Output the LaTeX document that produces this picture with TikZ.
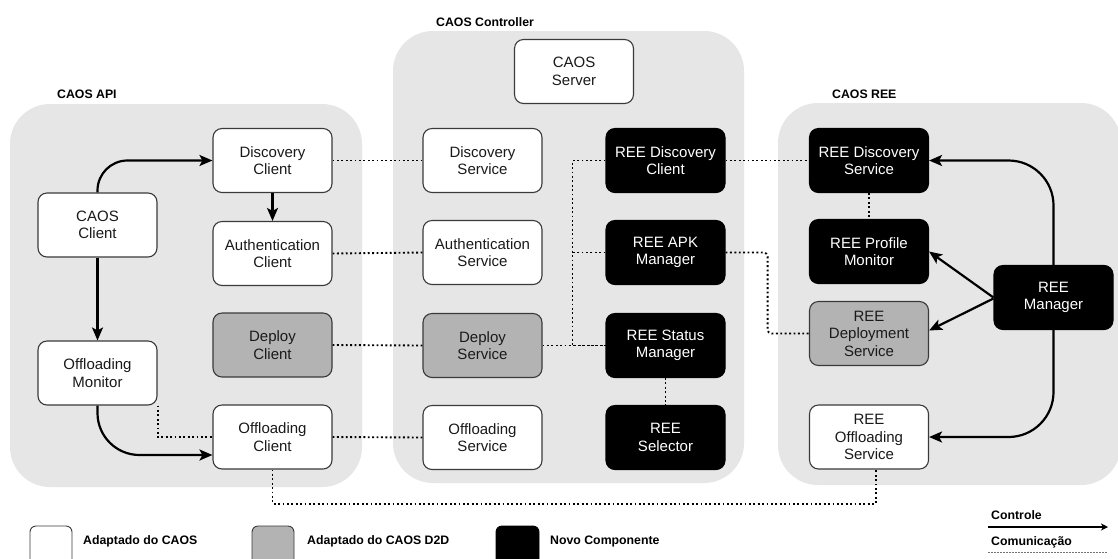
\documentclass[tikz,border=0pt]{standalone}
\usepackage{fontspec}
\setmainfont{Liberation Sans}
\usetikzlibrary{arrows.meta}
\definecolor{grpfill}{HTML}{E6E6E6}
\definecolor{midgray}{HTML}{B3B3B3}
\definecolor{edgegray}{HTML}{3A3A3A}
\definecolor{txtdark}{HTML}{1A1A1A}
\tikzset{
  box/.style={rectangle, rounded corners=9pt, minimum width=119pt, minimum height=64pt,
    inner sep=0pt, line width=1.1pt, align=center, font=\fontsize{15}{17.5}\selectfont},
  whitebox/.style={box, draw=edgegray, fill=white, text=txtdark},
  graybox/.style={box, draw=edgegray, fill=midgray, text=txtdark},
  blackbox/.style={box, draw=black, fill=black, text=white},
  grp/.style={fill=grpfill, rounded corners=40pt},
  grplabel/.style={anchor=west, inner sep=0pt, text=black, font=\fontsize{12.3}{14}\selectfont\bfseries},
  ctrl/.style={line width=2.2pt, -{Stealth[length=13pt,width=11pt,inset=3pt]}},
  comm/.style={line width=1.9pt, dash pattern=on 1.9pt off 2.5pt},
  legbox/.style={rounded corners=6pt, line width=0.9pt, draw=edgegray},
}
\begin{document}
\begin{tikzpicture}[x=1pt,y=-1pt]
\clip (0,0) rectangle (1118,558);
\fill[white] (0,0) rectangle (1118,558);

% groups
\path[grp] (10,104) rectangle (362,487);
\path[grp] (393,31) rectangle (744,483);
\path[grp] (778,103) rectangle (1121,485);
\node[grplabel] (lapi) at (57,94) {CAOS API};
\node[grplabel] (lctl) at (436,22) {CAOS Controller};
\node[grplabel] (lree) at (832,94) {CAOS REE};

% CAOS API
\node[whitebox] (cc) at (97.5,225) {CAOS\\Client};
\node[whitebox] (om) at (97.5,373) {Offloading\\Monitor};
\node[whitebox] (dc) at (272.5,160.5) {Discovery\\Client};
\node[whitebox] (ac) at (272.5,253.5) {Authentication\\Client};
\node[graybox]  (dpc) at (272.5,345) {Deploy\\Client};
\node[whitebox] (oc) at (272.5,437) {Offloading\\Client};

% CAOS Controller
\node[whitebox] (srv) at (574,71.5) {CAOS\\Server};
\node[whitebox] (dsv) at (482.5,160.5) {Discovery\\Service};
\node[whitebox] (asv) at (482.5,252.5) {Authentication\\Service};
\node[graybox]  (dps) at (482.5,345.5) {Deploy\\Service};
\node[whitebox] (osv) at (482.5,437.5) {Offloading\\Service};
\node[blackbox] (rdc) at (665.5,160.5) {REE Discovery\\Client};
\node[blackbox] (rapk) at (665.5,252.5) {REE APK\\Manager};
\node[blackbox] (rsm) at (665.5,345.5) {REE Status\\Manager};
\node[blackbox] (rsel) at (665.5,437.5) {REE\\Selector};

% CAOS REE
\node[blackbox] (rds) at (869,160.5) {REE Discovery\\Service};
\node[blackbox] (rpm) at (869,251.5) {REE Profile\\Monitor};
\node[graybox]  (rdep) at (869,333.5) {REE\\Deployment\\Service};
\node[whitebox] (ros) at (869,437) {REE\\Offloading\\Service};
\node[blackbox] (rmgr) at (1053.5,297.5) {REE\\Manager};

% communication (dotted)
\draw[comm] (dc.east) -- (dsv.west);
\draw[comm] (ac.east) -- (asv.west);
\draw[comm] (dpc.east) -- (dps.west);
\draw[comm] (oc.east) -- (osv.west);
\draw[comm] (om.south east) |- (oc.west);
\draw[comm] (oc.south) -- ++(0,34) -| ([xshift=7pt]ros.south);
\draw[comm] (dps.east) -- (rsm.west);
\draw[comm] (rdc.west) -- ++(-33,0) |- (rsm.west);
\draw[comm] (rapk.west) -- ++(-33,0);
\draw[comm, rounded corners=4pt] (rapk.east) -- ++(42,0) |- (rdep.west);
\draw[comm] (rdc.east) -- (rds.west);
\draw[comm] (rds.south) -- (rpm.north);
\draw[comm] (rsm.south) -- (rsel.north);

% control (solid arrows)
\draw[ctrl, rounded corners=30pt] (cc.north) |- (dc.west);
\draw[ctrl] (dc.south) -- (ac.north);
\draw[ctrl] (cc.south) -- (om.north);
\draw[ctrl, rounded corners=42pt] (om.south) |- ([yshift=-18pt]oc.west);
\draw[ctrl, rounded corners=45pt] (rmgr.north) |- (rds.east);
\draw[ctrl, rounded corners=45pt] (rmgr.south) |- (ros.east);
\draw[ctrl] (rmgr.west) -- (rpm.east);
\draw[ctrl] ([yshift=-1pt]rmgr.west) -- ([yshift=3pt]rdep.east);

% legend
\draw[legbox, fill=white] (30,526) rectangle (72,580);
\draw[legbox, fill=midgray] (252,526) rectangle (294,580);
\draw[legbox, draw=black, fill=black] (496,526) rectangle (539,580);
\node[grplabel] (lg1) at (83,541) {Adaptado do CAOS};
\node[grplabel] (lg2) at (307,541) {Adaptado do CAOS D2D};
\node[grplabel] (lg3) at (550,541) {Novo Componente};
\node[grplabel] (lg4) at (991,515) {Controle};
\node[grplabel] (lg5) at (991,542) {Comunicação};
\coordinate (la1) at (988,527);
\coordinate (la2) at (1108,527);
\coordinate (lb1) at (988,552);
\coordinate (lb2) at (1108,552);
\draw[line width=1.4pt, -{Stealth[length=7pt,width=7pt,inset=2pt]}] (la1) -- (la2);
\draw[line width=1pt, draw=black!55, dash pattern=on 1.5pt off 1.5pt] (lb1) -- (lb2);
\end{tikzpicture}
\end{document}
